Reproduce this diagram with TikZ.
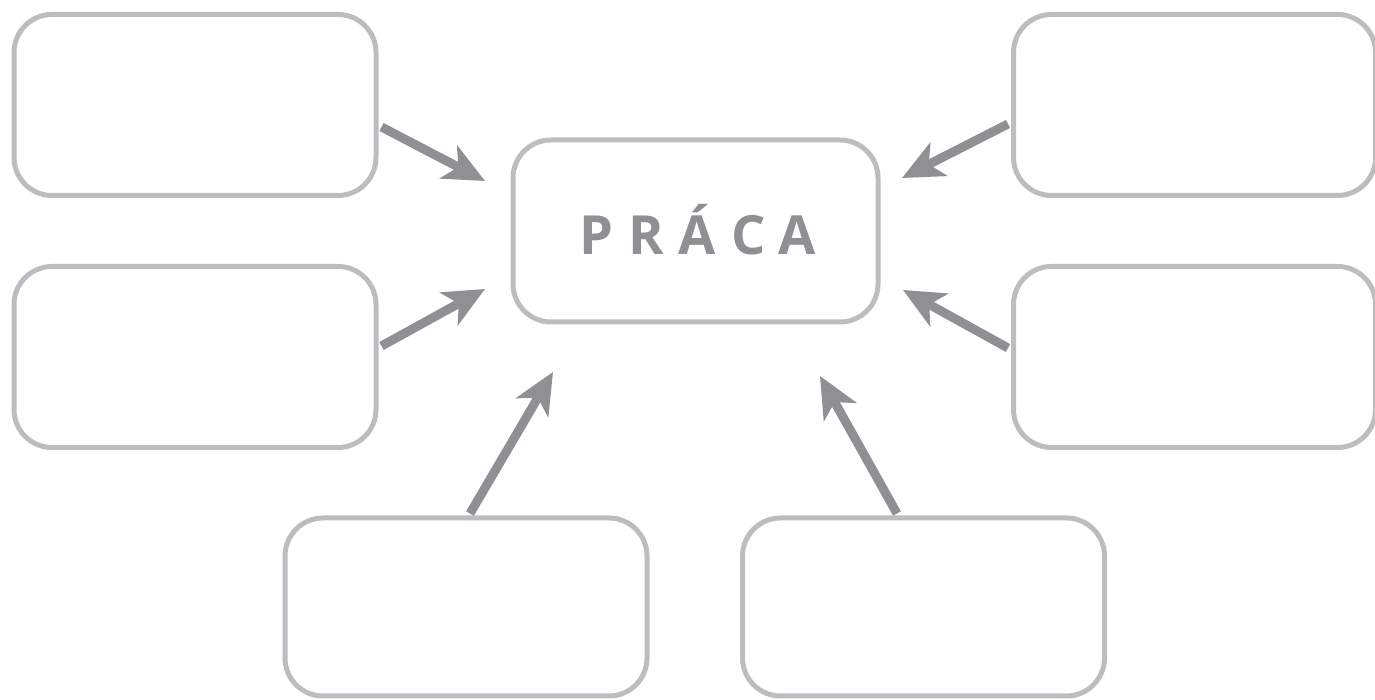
\documentclass[tikz,border=0pt]{standalone}
\usepackage{fontspec}
\setmainfont{Open Sans}
\usetikzlibrary{arrows.meta}
\definecolor{boxgray}{HTML}{BCBDC0}
\definecolor{arrowgray}{HTML}{8E9093}
\begin{document}
\begin{tikzpicture}[x=1pt,y=1pt,
  sbox/.style={draw=boxgray, line width=5pt, rounded corners=38pt, inner sep=0pt,
    minimum width=362pt, minimum height=181pt},
  conn/.style={draw=arrowgray, line width=9pt,
    -{Stealth[length=41pt 0 0, width=37pt 0 0, inset=11pt 0 0]}}]
\useasboundingbox (0,0) rectangle (1375,700);
% boxes
\node[sbox] (tl) at (195,595) {};
\node[sbox] (ml) at (195,343) {};
\node[sbox] (tr) at (1194.5,595) {};
\node[sbox] (mr) at (1194.5,343) {};
\node[sbox, minimum height=178pt] (bl) at (466,93) {};
\node[sbox, minimum height=178pt] (br) at (923.5,93) {};
\node[sbox, minimum width=365pt, minimum height=182pt] (c) at (695.5,469) {};
\node[text=arrowgray, font=\fontsize{54}{60}\selectfont\bfseries, anchor=base, inner sep=0pt] (t) at (697.5,445)
  {P\hspace{15pt}R\hspace{15pt}Á\hspace{15pt}C\hspace{13pt}A};
% arrow tips
\coordinate (a1) at (485,519);
\coordinate (a2) at (485,411);
\coordinate (a3) at (902,522);
\coordinate (a4) at (903,410);
\coordinate (a5) at (553,328);
\coordinate (a6) at (820,324);
\draw[conn] ([shift={(3pt,-22pt)}]tl.east) -- (a1);
\draw[conn] ([shift={(3pt,11pt)}]ml.east) -- (a2);
\draw[conn] ([shift={(-3pt,-19pt)}]tr.west) -- (a3);
\draw[conn] ([shift={(-3pt,9pt)}]mr.west) -- (a4);
\draw[conn] ([shift={(4pt,2pt)}]bl.north) -- (a5);
\draw[conn] ([shift={(-26.5pt,2pt)}]br.north) -- (a6);
\end{tikzpicture}
\end{document}
